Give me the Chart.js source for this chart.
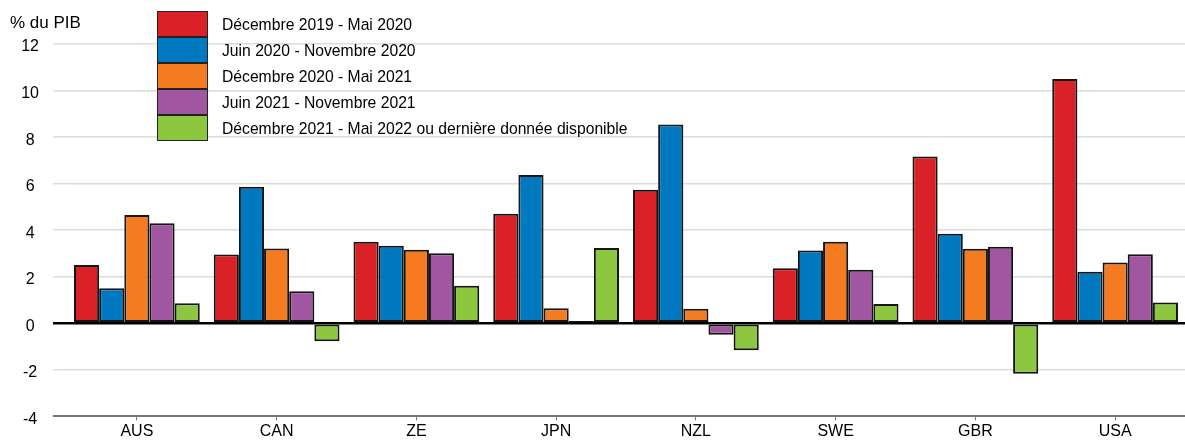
<!DOCTYPE html>
<html>
<head>
<meta charset="utf-8">
<script src="https://cdn.jsdelivr.net/npm/chart.js@4/dist/chart.umd.min.js"></script>
<style>
    body { margin: 0; background: #fff; font-family: "Liberation Sans", Arial, sans-serif; }
    #wrap { position: relative; width: 1185px; height: 440px; }
    #unit { position: absolute; left: 10px; top: 13px; font-size: 17px; color: #000; }
    #legend { position: absolute; left: 157px; top: 12px; }
    .row { display: flex; align-items: center; height: 26px; }
    .box { width: 49px; height: 24px; border: 1.5px solid #222; box-sizing: content-box; margin-top: -1.5px; }
    .txt { margin-left: 14px; font-size: 15.7px; color: #000; }
</style>
</head>
<body>
<div id="wrap">
    <canvas id="chart"></canvas>
    <div id="unit">% du PIB</div>
    <div id="legend"></div>
</div>
<script>
// pays
const categories = ['AUS', 'CAN', 'ZE', 'JPN', 'NZL', 'SWE', 'GBR', 'USA']

// periodes
const seriesLabels = [
    'Décembre 2019 - Mai 2020',
    'Juin 2020 - Novembre 2020',
    'Décembre 2020 - Mai 2021',
    'Juin 2021 - Novembre 2021',
    'Décembre 2021 - Mai 2022 ou dernière donnée disponible'
]

const dec19 = [2.50, 2.96, 3.50, 4.71, 5.74, 2.37, 7.17, 10.50]
const jun20 = [1.51, 5.87, 3.33, 6.37, 8.54, 3.13, 3.85, 2.22]
const dec20 = [4.65, 3.21, 3.16, 0.65, 0.62, 3.50, 3.20, 2.61]
const jun21 = [4.30, 1.38, 3.01, 0.10, -0.49, 2.30, 3.29, 2.97]
const dec21 = [0.86, -0.77, 1.61, 3.24, -1.16, 0.83, -2.17, 0.89]

const yTicks = [-4, -2, 0, 2, 4, 6, 8, 10, 12]

const colors = ['#da2128', '#0079c1', '#f47b20', '#a056a0', '#8dc63f']
const values = [dec19, jun20, dec20, jun21, dec21]

var datasets = []
for (let i = 0; i < values.length; i++) {
    datasets.push({
        label: seriesLabels[i],
        data: values[i],
        backgroundColor: colors[i],
        borderColor: '#151515',
        borderWidth: 2,
        borderSkipped: false,
        barPercentage: 1,
        categoryPercentage: 0.9
    })
}

// legende html
var legend = document.getElementById('legend')
datasets.forEach(ds => {
    var row = document.createElement('div')
    row.className = 'row'
    var box = document.createElement('div')
    box.className = 'box'
    box.style.background = ds.backgroundColor
    var txt = document.createElement('div')
    txt.className = 'txt'
    txt.textContent = ds.label
    row.append(box)
    row.append(txt)
    legend.append(row)
})

const ctx = document.getElementById('chart').getContext('2d')
Chart.defaults.font.family = '"Liberation Sans", Arial, sans-serif'
Chart.defaults.color = '#000'

new Chart(ctx, {
    type: 'bar',
    data: { labels: categories, datasets: datasets },
    options: {
        responsive: true,
        maintainAspectRatio: false,
        animation: false,
        layout: { padding: { top: 44, right: 0, left: 0, bottom: 0 } },
        plugins: { legend: { display: false }, tooltip: { enabled: false } },
        scales: {
            x: {
                grid: {
                    offset: false,
                    drawOnChartArea: false,
                    drawTicks: true,
                    tickLength: 4,
                    color: '#777'
                },
                border: { display: true, color: '#777', width: 2 },
                ticks: { font: { size: 16 }, padding: 2, maxRotation: 0 },
                afterFit: function(scale) { scale.height = 23 }
            },
            y: {
                min: -4,
                max: 12,
                afterBuildTicks: function(scale) {
                    scale.ticks = yTicks.map(v => ({ value: v }))
                },
                grid: {
                    drawTicks: true,
                    tickLength: 14,
                    color: function(c) {
                        if (c.tick.value === 0) return '#000'
                        if (c.tick.value === -4) return '#777'
                        return '#dcdcdc'
                    },
                    lineWidth: function(c) {
                        if (c.tick.value === 0) return 2.5
                        if (c.tick.value === -4) return 2
                        return 1.5
                    }
                },
                border: { display: false },
                ticks: { font: { size: 16 }, padding: 14, crossAlign: 'center', labelOffset: 3 },
                afterFit: function(scale) { scale.width = 67 }
            }
        }
    }
})
</script>
</body>
</html>
